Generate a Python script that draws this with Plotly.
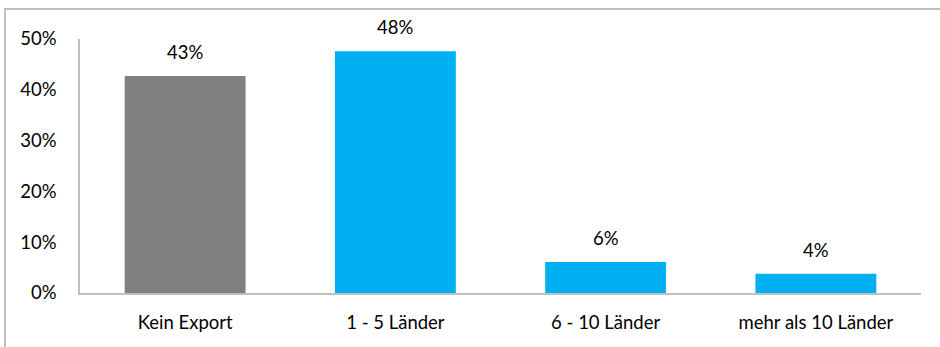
import plotly.graph_objects as go

categories = ["Kein Export", "1 - 5 Länder", "6 - 10 Länder", "mehr als 10 Länder"]
values = [42.7, 47.6, 6.1, 3.8]
colors = ["#808080", "#00B0F0", "#00B0F0", "#00B0F0"]
y_ticks = [0, 10, 20, 30, 40, 50]

FONT = "Lato"
FS = 18.5

fig = go.Figure()
fig.add_trace(go.Bar(x=categories, y=values, marker=dict(color=colors, line=dict(width=0)),
                     hoverinfo="skip"))

for c, v in zip(categories, values):
    fig.add_annotation(x=c, y=v, text=f"{round(v)}%", showarrow=False,
                       yshift=24, font=dict(family=FONT, size=FS, color="#000000"))

fig.add_shape(type="rect", xref="paper", yref="paper",
              x0=-0.0892, x1=1.2, y0=-0.4, y1=1.118,
              line=dict(color="#BFBFBF", width=2), fillcolor="rgba(0,0,0,0)", layer="below")

fig.update_layout(
    width=940, height=347,
    margin=dict(l=80, r=19, t=39, b=54),
    paper_bgcolor="white", plot_bgcolor="white",
    bargap=0.425,
    showlegend=False,
    font=dict(family=FONT, size=FS, color="#000000"),
    xaxis=dict(showline=True, linecolor="#BFBFBF", linewidth=1.5, ticks="",
               ticklabelstandoff=12, tickfont=dict(family=FONT, size=FS, color="#000000"),
               showgrid=False, zeroline=False, fixedrange=True),
    yaxis=dict(range=[0, 50], tickvals=y_ticks, ticktext=[f"{t}%" for t in y_ticks],
               showline=True, linecolor="#BFBFBF", linewidth=1.5, ticks="",
               ticklabelstandoff=18, tickfont=dict(family=FONT, size=FS, color="#000000"),
               showgrid=False, zeroline=False, fixedrange=True),
)

fig.write_html("out.html")
